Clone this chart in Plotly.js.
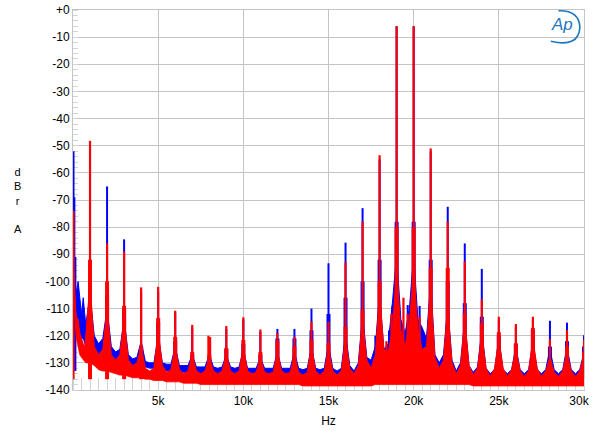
<!DOCTYPE html>
<html>
<head>
<meta charset="utf-8">
<script src="https://cdn.plot.ly/plotly-3.0.1.min.js"></script>
<style>html,body{margin:0;padding:0;background:#fff;}#chart{width:600px;height:435px;}</style>
</head>
<body>
<div id="chart"></div>
<script>
// Frequency sample points (Hz) of the noise-floor band readings
const freqHz = [20,50,100,150,200,300,400,500,600,700,750,
1000,1250,1500,1750,2000,2250,2500,2750,3000,3250,3500,3750,4000,4250,4500,4750,
5000,5250,5500,5750,6000,6250,6500,6750,7000,7250,7500,7750,8000,8250,8500,8750,
9000,9250,9500,9750,10000,10250,10500,10750,11000,11250,11500,11750,12000,12250,12500,12750,
13000,13250,13500,13750,14000,14250,14500,14750,15000,15250,15500,15750,16000,16250,16500,16750,
17000,17250,17500,17750,18000,18250,18500,18750,19000,19250,19500,19750,20000,20250,20500,20750,
21000,21250,21500,21750,22000,22250,22500,22750,23000,23250,23500,23750,24000,24250,24500,24750,
25000,25250,25500,25750,26000,26250,26500,26750,27000,27250,27500,27750,28000,28250,28500,28750,
29000,29250,29500,29750,30000];

// Blue channel: upper / lower edge of the noise band (dBr)
const blueHi = [-88,-92,-98,-102,-104,-100,-106,-112,-106,-112,-116,
-105,-120,-123,-121,-110,-124,-126,-125,-114,-127,-128.5,-128,-122,-129.5,-130,-130,
-120,-130,-130.5,-130.5,-124,-131,-131,-131,-127,-131.5,-131.5,-131.5,-127,-131.5,-132,-131.5,
-127,-131.5,-132,-131.5,-125,-132,-132,-132,-128,-132,-132,-132,-126,-132,-132,-132,
-126,-132,-132.5,-132,-124,-132,-132.5,-132,-123,-132,-133,-132,-119,-131,-133,-130,
-112,-128,-129,-124,-104,-125,-123,-108,-90,-114,-119,-110,-90,-114,-117,-121,
-100,-127,-130,-127,-109,-129,-133,-130,-114,-131,-133.5,-131.5,-118,-132,-134,-132.5,
-121,-132.5,-134,-132.5,-124,-132.5,-134,-132.5,-122,-132.5,-134,-132.5,-125,-132.5,-134,-132.5,
-124,-132.5,-134,-132.5,-126];
const blueLo = [-95,-100,-106,-112,-115,-116,-119,-121,-121,-123,-124,
-124,-125,-127,-127,-127,-128,-129,-129,-129,-130,-131,-131,-131,-131.5,-132,-132,
-132,-132.5,-133,-133,-133,-133.5,-133.5,-133.5,-133.5,-134,-134,-134,-134,-134,-134,-134,
-134,-134,-134.5,-134.5,-134.5,-134.5,-134.5,-134.5,-134.5,-134.5,-134.5,-135,-135,-135,-135,-135,
-135,-135,-135,-135,-135,-135,-135,-135,-135,-135,-135.5,-135.5,-135.5,-135.5,-135.5,-135,
-135,-135,-135,-134,-134,-134,-134,-133,-133,-133,-133,-133,-133,-133,-133,-134,
-134,-134,-135,-135,-135,-135,-135.5,-135.5,-135.5,-135.5,-136,-136,-136,-136,-136,-136,
-136,-136,-136,-136,-136,-136,-136,-136,-136,-136,-136,-136,-136,-136,-136,-136,
-136,-136,-136,-136,-136];

// Red channel: upper / lower edge of the noise band (dBr)
const redHi = [-90,-96,-104,-110,-113,-114,-119,-121,-123,-124,-120,
-100,-124,-127,-125,-110,-127,-129,-127,-113,-129,-131,-130,-124,-132,-133,-132,
-118,-131,-133.5,-132.5,-124,-132.5,-134,-133,-127,-133,-134,-133,-128,-133,-134,-133,
-127,-133,-134,-133,-124,-133,-134,-133.5,-128,-133.5,-134,-133.5,-126,-133,-134,-133.5,
-127,-133.5,-134.5,-133.5,-124,-133,-134.5,-133,-125,-133,-134.5,-133,-121,-132,-134,-131,
-114,-129,-132,-127,-104,-125,-126,-118,-95,-118,-124,-115,-95,-118,-125,-124,
-102,-128,-132,-129,-109,-130,-134,-131,-114,-131,-134.5,-132,-119,-132,-135,-132,
-121,-132,-135,-132.5,-125,-133,-135,-133,-121,-132,-135,-133,-128,-133.5,-135,-133,
-126,-133,-135,-133,-127];
const redLo = [-98,-104,-112,-118,-121,-124,-127,-128,-129,-130,-130,
-130,-131,-132.5,-133,-133,-133.5,-134,-134.5,-134.5,-135,-135.5,-135.5,-135.5,-136,-136,-136.5,
-136.5,-136.5,-137,-137,-137,-137,-137.5,-137.5,-137.5,-137.5,-138,-138,-138,-138,-138,-138,
-138,-138,-138,-138,-138,-138,-138,-138,-138,-138,-138,-138,-138,-138,-138,-138,
-138,-138,-138.5,-138.5,-138.5,-138.5,-138.5,-138.5,-138.5,-138.5,-138.5,-138.5,-138.5,-138.5,-138.5,-138.5,
-138.5,-138.5,-138.5,-138,-138,-138,-138,-138,-138,-138,-138,-138,-138,-138,-138,-138,
-138,-138,-138,-138,-138,-138,-138,-138,-138,-138,-138.5,-138.5,-138.5,-138.5,-138.5,-138.5,
-138.5,-138.5,-138.5,-138.5,-138.5,-138.5,-138.5,-138.5,-138.5,-138.5,-138.5,-138.5,-138.5,-138.5,-138.5,-138.5,
-138.5,-138.5,-138.5,-138.5,-138.5];

// Harmonic / IMD peaks: thick base (skirt) level per channel
const skirtHz = [1000,2000,3000,4000,5000,6000,7000,8000,9000,10000,11000,12000,13000,14000,15000,
16000,17000,18000,19000,20000,21000,22000,23000,24000,25000,26000,27000,28000,29000,30000];
const blueSkirtDb = [-100,-105,-110,-124,-115,-122,-127,-128,-125,-123,-127,-121,-121,-118,-112,
-106,-100,-92,-78,-78,-92,-100,-108,-113,-120,-123,-118,-124,-122,-124];
const redSkirtDb = [-92,-100,-109,-124,-113.5,-120.4,-126,-127,-124.5,-121.6,-126,-122,-124,-121.6,-122.7,
-116.7,-110.5,-100,-80,-80,-95,-95,-111.7,-115.4,-118.7,-122.8,-117.2,-129,-124,-126];

// Discrete spectral spikes (frequency Hz, peak level dBr)
const blueSpikeHz = [30,80,140,1000,2000,3000,4000,5000,6000,7000,8000,9000,10000,11000,12000,13000,14000,15000,16000,17000,17750,18000,18200,18550,18750,19000,19350,19650,20000,20350,20650,21000,22000,23000,24000,25000,26000,27000,28000,29000,30000];
const blueSpikeDb = [-52,-69,-91,-79,-65,-84.5,-104,-104,-111.5,-117,-121,-117.5,-114,-118.5,-117.5,-117.5,-110,-93.3,-85.7,-73,-120,-55,-123,-118,-109,-6,-120,-108.7,-6,-109,-122.5,-52,-72.5,-86,-95.4,-114,-117,-114,-114.5,-115.2,-119.8];
const blueFloor = -133;

const redSpikeHz = [30,1000,2000,3000,4000,5000,6000,7000,7950,8050,9000,10000,11000,12000,13000,14000,15000,16000,17000,18000,18400,18700,19000,19400,19650,20000,20350,20750,21000,22000,23000,24000,25000,26000,27000,28000,29000,30000];
const redSpikeDb = [-74,-48.2,-86,-89,-102.2,-102,-110.8,-116,-120,-120.5,-116.4,-113.2,-117.7,-119,-120.4,-114.8,-114.8,-93,-78,-53.5,-122,-112,-6,-106,-112,-6,-113,-125,-51,-78,-92.7,-106.6,-113,-115.7,-113,-121.3,-117.9,-121.6];
const redFloor = -136;

// Axis ticks
const xTickVals = [5000,10000,15000,20000,25000,30000];
const xTickText = ['5k','10k','15k','20k','25k','30k\u00a0\u00a0\u00a0'];
const yTickVals = [0,-10,-20,-30,-40,-50,-60,-70,-80,-90,-100,-110,-120,-130,-140];
const yTickText = ['+0','-10','-20','-30','-40','-50','-60','-70','-80','-90','-100','-110','-120','-130','-140'];

function spikes(hz, db, base){
  const x=[], y=[];
  for(let i=0;i<hz.length;i++){ x.push(hz[i],hz[i],null); y.push(base,db[i],null); }
  return {x,y};
}
function band(hi, lo, color){
  return [
    {x:freqHz, y:lo, type:'scatter', mode:'lines', line:{width:0.8,color:color}, hoverinfo:'skip', showlegend:false},
    {x:freqHz, y:hi, type:'scatter', mode:'lines', line:{width:1,color:color}, fill:'tonexty', fillcolor:color, hoverinfo:'skip', showlegend:false}
  ];
}
const bs = spikes(blueSpikeHz, blueSpikeDb, blueFloor);
const rs = spikes(redSpikeHz, redSpikeDb, redFloor);
const bk = spikes(skirtHz, blueSkirtDb, blueFloor);
const rk = spikes(skirtHz, redSkirtDb, redFloor);
const BLUE='#0000ff', RED='#ff0000';
const data = [
  ...band(blueHi, blueLo, BLUE),
  {x:bk.x, y:bk.y, type:'scatter', mode:'lines', line:{width:4,color:BLUE}, showlegend:false, hoverinfo:'skip'},
  {x:bs.x, y:bs.y, type:'scatter', mode:'lines', line:{width:2,color:BLUE}, showlegend:false, hoverinfo:'skip'},
  ...band(redHi, redLo, RED),
  {x:rk.x, y:rk.y, type:'scatter', mode:'lines', line:{width:4,color:RED}, showlegend:false, hoverinfo:'skip'},
  {x:rs.x, y:rs.y, type:'scatter', mode:'lines', line:{width:2.2,color:RED}, showlegend:false, hoverinfo:'skip'}
];

const FONT = 'Liberation Sans, Arial, sans-serif';
const layout = {
  width:600, height:435,
  margin:{l:73, r:16, t:10, b:45},
  paper_bgcolor:'#ffffff', plot_bgcolor:'#ffffff',
  font:{family:FONT, size:12, color:'#000'},
  showlegend:false,
  xaxis:{
    range:[0,30000], tickvals:xTickVals, ticktext:xTickText, ticks:'',
    ticklabeloverflow:'allow', layer:'below traces',
    showgrid:true, gridcolor:'#c4c4c4', gridwidth:1, zeroline:false,
    showline:true, linecolor:'#c4c4c4', linewidth:1, mirror:true,
    tickfont:{family:FONT, size:12, color:'#000'},
    minor:{ticks:'inside', ticklen:12, dtick:500, tickcolor:'#d4d4d4', tickwidth:1, showgrid:false},
    title:{text:'Hz', font:{family:FONT, size:12, color:'#000'}, standoff:9},
    fixedrange:true
  },
  yaxis:{
    range:[-140,0], tickvals:yTickVals, ticktext:yTickText, ticks:'',
    layer:'below traces',
    showgrid:true, gridcolor:'#c4c4c4', gridwidth:1, zeroline:false,
    showline:true, linecolor:'#c4c4c4', linewidth:1, mirror:true,
    tickfont:{family:FONT, size:12, color:'#000'},
    minor:{ticks:'inside', ticklen:5, dtick:2, tickcolor:'#d4d4d4', tickwidth:1, showgrid:false},
    fixedrange:true
  },
  annotations:[
    {xref:'paper', yref:'paper', x:-0.108, y:0.5, xanchor:'center', yanchor:'middle',
     text:'d<br>B<br>r<br><br>A', showarrow:false, align:'center',
     font:{family:FONT, size:11, color:'#000'}},
    {xref:'paper', yref:'paper', x:0.956, y:0.962, xanchor:'center', yanchor:'middle',
     text:'<i>Ap</i>', showarrow:false,
     font:{family:FONT, size:17, color:'#1f78bf'}}
  ],
  shapes:[
    {type:'path', xref:'paper', yref:'paper',
     path:'M 0.935,0.918 Q 0.99,0.9 0.992,0.955 Q 0.99,1.0 0.95,0.998',
     line:{color:'#1f78bf', width:1.6}}
  ]
};
Plotly.newPlot('chart', data, layout, {staticPlot:true, displayModeBar:false});
</script>
</body>
</html>
